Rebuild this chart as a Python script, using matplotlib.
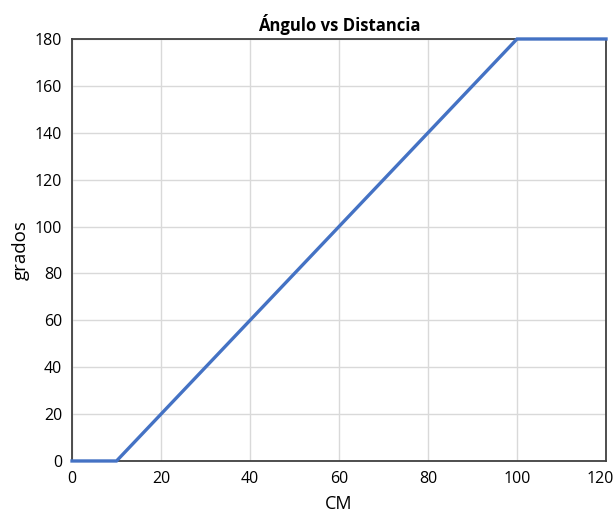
import matplotlib
matplotlib.use("Agg")
import matplotlib.pyplot as plt
from matplotlib.transforms import ScaledTranslation

# Servo angle as a function of measured distance
distancia_cm = [0, 10, 100, 120]
angulo_grados = [0, 0, 180, 180]
x_ticks = [0, 20, 40, 60, 80, 100, 120]
y_ticks = [0, 20, 40, 60, 80, 100, 120, 140, 160, 180]

plt.rcParams['font.family'] = ['Open Sans', 'DejaVu Sans']

fig = plt.figure(figsize=(6.14, 5.15), dpi=100)
ax = fig.add_axes([0.1173, 0.1049, 0.8697, 0.8194])

ax.plot(distancia_cm, angulo_grados, color='#4472C4', linewidth=2.4,
        solid_joinstyle='miter', zorder=3, clip_on=False)

ax.set_xlim(0, 120)
ax.set_ylim(0, 180)
ax.set_xticks(x_ticks)
ax.set_yticks(y_ticks)
ax.grid(True, color='#D9D9D9', linewidth=1.0)
ax.set_axisbelow(True)
ax.tick_params(length=0, labelsize=11.5, pad=7)
for s in ax.spines.values():
    s.set_color('#404040')
    s.set_linewidth(1.3)

# keep the last x tick label inside the figure
fig.canvas.draw()
last = ax.get_xticklabels()[-1]
last.set_transform(last.get_transform() + ScaledTranslation(-6 / 100, 0, fig.dpi_scale_trans))

ax.set_title('Ángulo vs Distancia', fontsize=12, fontweight='bold', pad=6)
ax.set_xlabel('CM', fontsize=13, labelpad=6)
ax.set_ylabel('grados', fontsize=13.5, labelpad=4)

fig.savefig('out.png', dpi=100)
